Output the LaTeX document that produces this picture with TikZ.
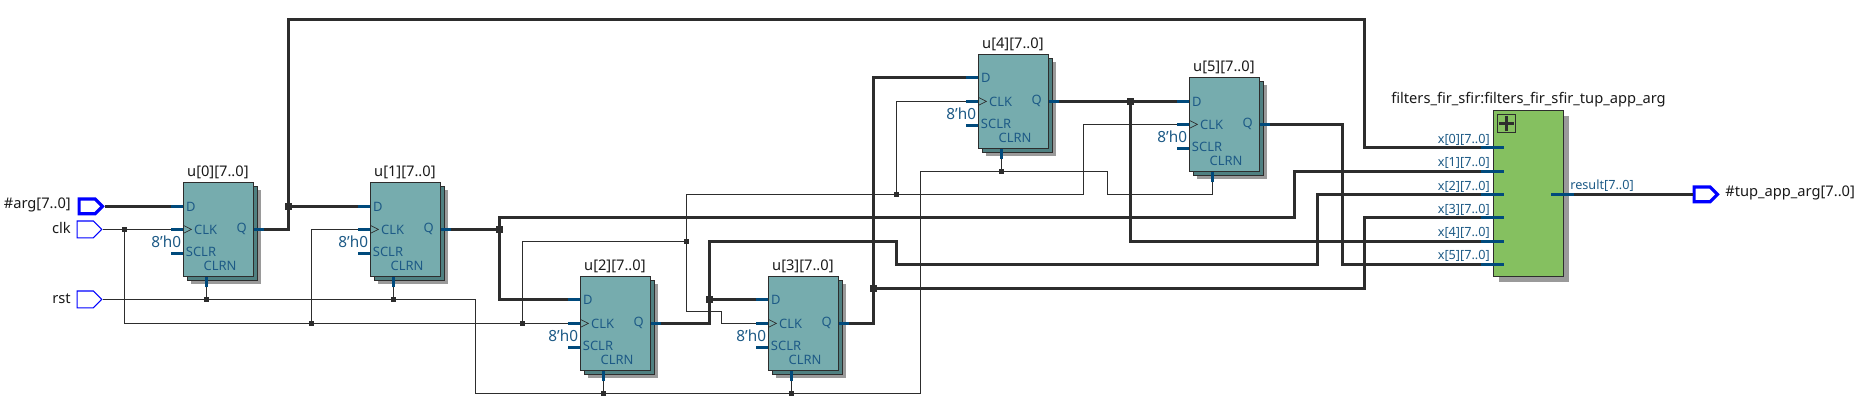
\documentclass[tikz,border=0pt]{standalone}
\usepackage{fontspec}
\setmainfont{Noto Sans}
\usepackage{tikz}
\usetikzlibrary{shapes.symbols}
\definecolor{fftop}{HTML}{76ACAE}
\definecolor{ffback}{HTML}{4F8081}
\definecolor{shadowgray}{HTML}{9A9A9A}
\definecolor{modgreen}{HTML}{85C060}
\definecolor{pinblue}{HTML}{004A7C}
\definecolor{labelblue}{HTML}{1D5A86}
\definecolor{wiregray}{HTML}{2D2D2D}
\tikzstyle{ffbox}=[rectangle,anchor=north west,draw=wiregray,line width=0.8pt,fill=fftop,
inner sep=0pt,minimum width=52.5pt,minimum height=70.5pt]
\tikzstyle{ffmiddle}=[ffbox,fill=ffback]
\tikzstyle{ffshadow}=[ffbox,draw=none,fill=shadowgray]
\tikzstyle{modbox}=[ffbox,fill=modgreen,minimum height=124.5pt]
\tikzstyle{modshadow}=[modbox,draw=none,fill=shadowgray]
\tikzstyle{plusbox}=[rectangle,anchor=north west,draw=wiregray,line width=0.7pt,inner sep=0pt,
minimum size=13.5pt]
\tikzstyle{pinlabel}=[inner sep=0pt,text=labelblue,font=\fontsize{9.7}{11}\selectfont]
\tikzstyle{buslabel}=[pinlabel,font=\fontsize{9.5}{11}\selectfont]
\tikzstyle{constlabel}=[pinlabel,font=\fontsize{11.5}{12}\selectfont]
\tikzstyle{namelabel}=[inner sep=0pt,text=black!90,font=\fontsize{11}{12}\selectfont]
\tikzstyle{pinstub}=[draw=pinblue,line width=2pt]
\tikzstyle{clkmark}=[draw=wiregray,line width=0.5pt]
\tikzstyle{buswire}=[draw=wiregray,line width=2.5pt,line join=miter]
\tikzstyle{thinwire}=[draw=wiregray,line width=0.8pt]
\tikzstyle{busdot}=[rectangle,fill=wiregray,inner sep=0pt,minimum size=5.2pt]
\tikzstyle{thindot}=[rectangle,fill=wiregray,inner sep=0pt,minimum size=3.8pt]
\tikzstyle{inport}=[signal,signal to=east,anchor=west,draw=blue,fill=white,line width=0.8pt,inner sep=0pt,
minimum width=18.6pt,minimum height=12.6pt]
\tikzstyle{busport}=[inport,line width=2.4pt,minimum width=17.5pt,minimum height=11pt]

\newcommand{\ffblock}[5]{
    \node[ffshadow] (#1shadow) at (#2+7,#3+7) {};
    \node[ffmiddle] (#1middle) at (#2+4,#3+4) {};
    \node[ffbox] (#1) at (#2,#3) {};
    \coordinate (#1d) at (#2-12,#3+#5);
    \coordinate (#1clk) at (#2-12,#3+47);
    \coordinate (#1sclr) at (#2-12,#3+71);
    \coordinate (#1q) at (#2+81,#3+47);
    \coordinate (#1clrn) at (#2+23,#3+105);
    \draw[pinstub] (#1d) -- (#1d -| #1.west);
    \draw[pinstub] (#1clk) -- (#1clk -| #1.west);
    \draw[pinstub] (#1sclr) -- (#1sclr -| #1.west);
    \draw[pinstub] (#1q) -- (#1q -| #1.east);
    \draw[pinstub] (#1clrn) -- (#1clrn |- #1.south);
    \draw[clkmark] (#2,#3+43) -- (#2+8,#3+47) -- (#2,#3+51);
    \node[pinlabel,anchor=west] (#1dtext) at (#2+2.5,#3+#5) {D};
    \node[pinlabel,anchor=west] (#1clktext) at (#2+10.5,#3+47) {CLK};
    \node[pinlabel,anchor=east] (#1qtext) at (#2+63.5,#3+47) {Q};
    \node[pinlabel,anchor=west] (#1sclrtext) at (#2+2.3,#3+69.5) {SCLR};
    \node[pinlabel,anchor=west] (#1clrntext) at (#2+20,#3+83.5) {CLRN};
    \node[constlabel,anchor=east] (#1const) at (#2-2,#3+59) {8\symbol{39}h0};
    \node[namelabel] (#1title) at (#2+34.5,#3-10) {#4};
}

\begin{document}
\begin{tikzpicture}[x=0.75pt,y=-0.75pt]
    \useasboundingbox (0,0) rectangle (1859,411);

    \ffblock{uzero}{183.4}{182.4}{u[0][7..0]}{24}
    \ffblock{uone}{370.4}{182.4}{u[1][7..0]}{24}
    \ffblock{utwo}{580.4}{276.4}{u[2][7..0]}{23}
    \ffblock{uthree}{768.4}{276.4}{u[3][7..0]}{23}
    \ffblock{ufour}{978.4}{54.4}{u[4][7..0]}{23}
    \ffblock{ufive}{1189.4}{77.4}{u[5][7..0]}{24}

    \node[modshadow] (firshadow) at (1498,115) {};
    \node[modbox] (fir) at (1493.4,110.4) {};
    \node[plusbox] (firplus) at (1497.4,114.4) {};
    \draw[draw=wiregray,line width=2.2pt] ([xshift=-5.6pt]firplus.center) -- ([xshift=5.6pt]firplus.center);
    \draw[draw=wiregray,line width=2.2pt] ([yshift=-5.6pt]firplus.center) -- ([yshift=5.6pt]firplus.center);
    \node[namelabel,anchor=west] (firtitle) at (1391,100) {filters\_fir\_sfir:filters\_fir\_sfir\_tup\_app\_arg};

    \coordinate (firx0) at (1481,147.4);
    \coordinate (firx1) at (1481,171.4);
    \coordinate (firx2) at (1481,194.4);
    \coordinate (firx3) at (1481,217.4);
    \coordinate (firx4) at (1481,241.4);
    \coordinate (firx5) at (1481,264.4);
    \coordinate (firres) at (1574,194.4);
    \node[buslabel,anchor=east] (firx0text) at (1490,140) {x[0][7..0]};
    \node[buslabel,anchor=east] (firx1text) at (1490,163) {x[1][7..0]};
    \node[buslabel,anchor=east] (firx2text) at (1490,186.5) {x[2][7..0]};
    \node[buslabel,anchor=east] (firx3text) at (1490,209.5) {x[3][7..0]};
    \node[buslabel,anchor=east] (firx4text) at (1490,233) {x[4][7..0]};
    \node[buslabel,anchor=east] (firx5text) at (1490,256) {x[5][7..0]};
    \node[buslabel,anchor=west] (firrestext) at (1570,185.7) {result[7..0]};

    \node[busport] (argport) at (77.5,206.4) {};
    \node[inport] (clkport) at (76.5,229.4) {};
    \node[inport] (rstport) at (76.5,299.4) {};
    \node[busport] (resport) at (1692.5,194.4) {};
    \node[namelabel,anchor=east] (argtext) at (71,205.4) {\#arg[7..0]};
    \node[namelabel,anchor=east] (clktext) at (71,228.4) {clk};
    \node[namelabel,anchor=east] (rsttext) at (71,298.4) {rst};
    \node[namelabel,anchor=west] (restext) at (1725,193.4) {\#tup\_app\_arg[7..0]};

    \node[busdot] (juzero) at (288.4,206.4) {};
    \node[busdot] (juone) at (499.4,229.4) {};
    \node[busdot] (jutwo) at (709.4,299.4) {};
    \node[busdot] (juthree) at (873.4,288.4) {};
    \node[busdot] (jufour) at (1130.4,101.4) {};
    \node[thindot] (jclka) at (124.4,229.4) {};
    \node[thindot] (jclkb) at (311.4,323.4) {};
    \node[thindot] (jclkc) at (522.4,323.4) {};
    \node[thindot] (jclkd) at (686.4,241.4) {};
    \node[thindot] (jclke) at (896.4,194.4) {};
    \node[thindot] (jrsta) at (206.4,299.4) {};
    \node[thindot] (jrstb) at (393.4,299.4) {};
    \node[thindot] (jrstc) at (603.4,393.4) {};
    \node[thindot] (jrstd) at (791.4,393.4) {};
    \node[thindot] (jrste) at (1001.4,171.4) {};

    \coordinate (cclka) at (721.4,311.4);
    \coordinate (cclkb) at (1083.4,194.4);
    \coordinate (crsta) at (475.4,299.4);
    \coordinate (crstb) at (920.4,393.4);
    \coordinate (crstc) at (1107.4,194.4);
    \coordinate (ctopa) at (288.4,19.4);
    \coordinate (ctopb) at (1364.4,19.4);
    \coordinate (cbusa) at (1294.4,217.4);
    \coordinate (cbusb) at (709.4,241.4);
    \coordinate (cbusc) at (896.4,241.4);
    \coordinate (cbusd) at (1317.4,264.4);
    \coordinate (cbuse) at (1364.4,288.4);
    \coordinate (cbusf) at (1342.4,200.4);

    \draw[thinwire] (clkport.east) -- (jclka) -- (uzeroclk);
    \draw[thinwire] (jclka) |- (jclkb) -- (jclkc) -- (utwoclk);
    \draw[thinwire] (jclkb) |- (uoneclk);
    \draw[thinwire] (jclkc) |- (jclkd);
    \draw[thinwire] (jclkd) |- (cclka) |- (uthreeclk);
    \draw[thinwire] (jclkd) |- (jclke) -- (cclkb) |- (ufiveclk);
    \draw[thinwire] (jclke) |- (ufourclk);
    \draw[thinwire] (rstport.east) -- (jrsta) -- (jrstb) -- (crsta) |- (jrstc) -- (jrstd) -- (crstb) |- (jrste) -| (crstc) -| (ufiveclrn);
    \draw[thinwire] (jrsta) -- (uzeroclrn);
    \draw[thinwire] (jrstb) -- (uoneclrn);
    \draw[thinwire] (jrstc) -- (utwoclrn);
    \draw[thinwire] (jrstd) -- (uthreeclrn);
    \draw[thinwire] (jrste) -- (ufourclrn);

    \draw[buswire] (argport.east) -- (uzerod);
    \draw[buswire] (juzero) -- (uoned);
    \draw[buswire] (uzeroq) -| (ctopa) -- (ctopb) |- (firx0);
    \draw[buswire] (uoneq) -- (juone) |- (utwod);
    \draw[buswire] (juone) |- (cbusa) |- (firx1);
    \draw[buswire] (utwoq) -| (cbusb) -- (cbusc) |- (cbusd) |- (firx2);
    \draw[buswire] (jutwo) -- (uthreed);
    \draw[buswire] (uthreeq) -| (juthree) |- (ufourd);
    \draw[buswire] (juthree) -- (cbuse) |- (firx3);
    \draw[buswire] (ufourq) -- (jufour) -- (ufived);
    \draw[buswire] (jufour) |- (firx4);
    \draw[buswire] (ufiveq) -| (cbusf) |- (firx5);
    \draw[buswire] (firres) -- (resport.west);

    \draw[pinstub] (firx0) -- ++(23,0);
    \draw[pinstub] (firx1) -- ++(23,0);
    \draw[pinstub] (firx2) -- ++(23,0);
    \draw[pinstub] (firx3) -- ++(23,0);
    \draw[pinstub] (firx4) -- ++(23,0);
    \draw[pinstub] (firx5) -- ++(23,0);
    \draw[pinstub] (firres) -- ++(-23,0);
\end{tikzpicture}
\end{document}
